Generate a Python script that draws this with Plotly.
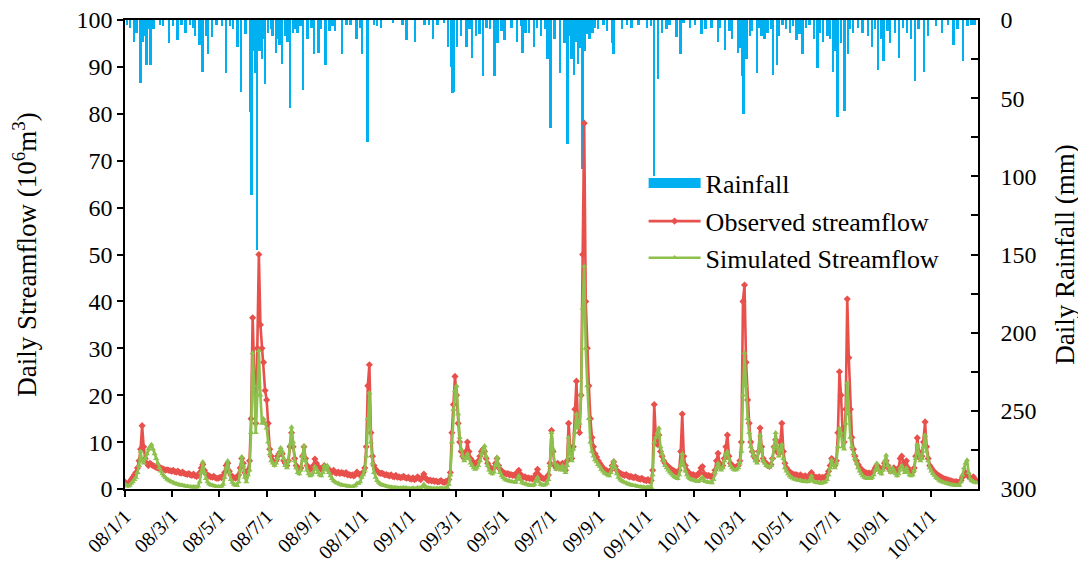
import pandas as pd
import plotly.graph_objects as go

# ---------------- data ----------------
start_date = "2008-01-01"

# streamflow (10^6 m3), sampled every 2 days from 2008-01-01
observed = [
    1.5, 1.2, 1.0, 1.5, 2.0, 2.5, 3.0, 3.5, 4.5, 6.0,
    8.5, 13.5, 9.0, 6.5, 5.5, 5.0, 5.5, 5.2, 5.0, 4.8,
    4.6, 4.5, 4.4, 4.5, 4.3, 4.2, 4.0, 4.1, 4.0, 3.9,
    3.8, 4.0, 3.7, 3.6, 3.8, 3.5, 3.4, 3.6, 3.3, 3.2,
    3.1, 3.3, 3.0, 2.9, 3.2, 2.8, 2.7, 2.9, 3.5, 4.5,
    5.2, 4.0, 3.2, 3.0, 2.8, 2.6, 2.5, 2.7, 2.4, 2.3,
    2.3, 2.5, 2.4, 2.8, 3.5, 5.0, 5.5, 3.8, 3.0, 2.6,
    2.4, 2.3, 2.5, 3.0, 4.5, 6.5, 5.5, 3.5, 3.0, 4.0,
    6.0, 15.0, 36.5, 24.0, 14.0, 30.0, 50.0, 35.0, 30.0, 27.0,
    21.0, 19.0, 14.0, 8.5, 7.0, 6.0, 5.5, 6.0, 7.0, 7.5,
    8.0, 7.5, 6.0, 5.5, 5.0, 6.0, 9.0, 12.0, 9.0, 6.5,
    5.0, 4.5, 4.2, 4.5, 7.0, 9.0, 6.5, 5.0, 4.5, 4.2,
    4.5, 5.0, 6.4, 5.5, 4.8, 4.5, 4.2, 4.5, 5.0, 4.6,
    4.5, 4.0, 3.8, 3.6, 4.0, 3.5, 3.4, 3.6, 3.3, 3.5,
    3.4, 3.2, 3.5, 3.0, 3.1, 2.9, 3.0, 2.8, 3.0, 3.6,
    3.2, 3.0, 3.3, 3.5, 4.5, 9.0, 22.0, 26.5, 12.0, 7.0,
    5.0, 4.2, 3.8, 3.5, 3.3, 3.4, 3.2, 3.0, 3.1, 2.9,
    2.8, 3.0, 2.7, 2.6, 2.9, 2.5, 2.6, 2.4, 2.5, 2.7,
    2.4, 2.3, 2.5, 2.2, 2.1, 2.4, 2.0, 2.2, 2.6, 2.2,
    2.0, 2.5, 3.2, 2.4, 2.0, 1.8, 1.9, 1.7, 1.8, 1.6,
    1.7, 1.5, 1.6, 1.8, 1.5, 1.4, 1.6, 1.5, 2.0, 3.5,
    12.0, 18.0, 24.0, 20.0, 14.0, 10.0, 8.0, 7.0, 6.5, 8.0,
    10.0, 8.0, 6.5, 6.0, 5.5, 5.0, 5.5, 6.0, 7.0, 8.0,
    8.5, 8.0, 6.5, 5.5, 4.8, 4.5, 4.2, 4.5, 5.5, 6.5,
    5.0, 4.2, 3.8, 3.5, 3.4, 3.2, 3.3, 3.0, 3.1, 2.9,
    3.0, 2.8, 3.5, 4.0, 3.2, 2.7, 2.5, 2.6, 2.3, 2.4,
    2.2, 2.3, 2.1, 2.5, 3.2, 4.2, 3.0, 2.5, 2.3, 2.2,
    2.2, 2.5, 3.0, 5.5, 12.5, 8.0, 5.0, 4.5, 5.5, 4.8,
    4.5, 5.5, 4.5, 4.0, 6.0, 14.0, 9.0, 6.5, 9.0, 17.0,
    23.0, 14.0, 12.0, 20.0, 50.0, 78.0, 40.0, 30.0, 22.0, 15.0,
    11.0, 9.0, 7.5, 6.8, 6.0, 5.5, 5.0, 4.5, 4.2, 4.0,
    3.8, 3.6, 4.0, 5.0, 5.8, 4.8, 4.0, 3.5, 3.4, 3.2,
    3.0, 2.9, 3.1, 2.8, 2.6, 2.7, 2.5, 2.4, 2.6, 2.3,
    2.2, 2.1, 2.3, 2.0, 1.9, 1.8, 2.0, 1.7, 1.8, 4.0,
    18.0, 11.5, 9.5, 11.5, 8.0, 7.0, 6.0, 5.5, 5.0, 4.8,
    4.5, 4.2, 4.0, 3.8, 3.6, 3.5, 4.0, 8.0, 16.0, 7.0,
    5.0, 4.0, 3.5, 3.2, 3.0, 3.1, 2.9, 2.8, 3.0, 3.5,
    4.5, 4.8, 3.2, 3.0, 2.8, 2.9, 2.7, 2.6, 3.0, 4.0,
    6.0, 7.6, 5.5, 4.5, 5.0, 6.5, 9.0, 11.5, 7.0, 5.5,
    5.0, 4.8, 4.5, 4.8, 5.0, 6.0, 10.0, 40.0, 43.5, 27.0,
    19.0, 14.0, 10.0, 8.0, 7.0, 6.5, 6.0, 8.0, 13.0, 9.0,
    6.5, 5.8, 5.5, 5.0, 4.8, 5.2, 6.5, 9.0, 10.5, 8.0,
    7.5, 10.0, 14.0, 8.0, 5.5, 4.5, 4.0, 3.6, 3.4, 3.2,
    3.0, 3.1, 2.9, 2.8, 3.0, 2.7, 2.6, 2.8, 2.5, 2.7,
    3.0, 3.5, 2.8, 2.6, 2.5, 2.4, 2.6, 2.3, 2.5, 2.4,
    2.5, 3.0, 3.8, 5.0, 6.5, 5.5, 5.0, 6.0, 12.0, 25.0,
    20.0, 12.0, 10.0, 17.0, 40.5, 28.0, 17.0, 11.0, 8.5, 7.0,
    6.0, 5.2, 4.6, 4.2, 3.9, 3.6, 3.5, 3.3, 3.4, 3.2,
    3.5, 3.8, 4.5, 5.0, 4.8, 4.2, 4.0, 4.5, 5.5, 6.0,
    5.0, 4.2, 3.8, 4.0, 4.5, 4.0, 3.6, 4.5, 6.5, 7.0,
    5.5, 4.5, 6.0, 4.5, 3.8, 3.5, 3.6, 4.5, 7.0, 10.9,
    8.0, 6.5, 7.0, 10.0, 14.3, 9.0, 6.5, 5.0, 4.5, 4.0,
    3.6, 3.3, 3.0, 2.8, 2.6, 2.4, 2.2, 2.1, 2.0, 1.9,
    1.8, 1.7, 1.6, 1.5, 1.6, 1.4, 1.5, 1.8, 2.5, 3.0,
    3.5, 3.2, 2.6, 2.4, 2.2, 2.6, 2.0, 1.8,
]

simulated = [
    1.0, 0.8, 0.6, 0.8, 1.2, 1.5, 2.0, 2.5, 3.5, 5.0,
    8.0, 6.0, 5.5, 6.5, 7.5, 8.5, 9.0, 9.5, 8.5, 7.5,
    6.5, 5.5, 4.5, 3.8, 3.2, 2.8, 2.4, 2.1, 1.9, 1.7,
    1.5, 1.4, 1.2, 1.1, 1.0, 0.9, 0.8, 0.8, 0.7, 0.6,
    0.6, 0.5, 0.5, 0.4, 0.5, 0.4, 0.4, 0.6, 1.5, 3.5,
    5.8, 3.5, 2.2, 1.5, 1.1, 0.9, 0.8, 0.7, 0.6, 0.5,
    0.5, 0.5, 0.6, 1.0, 2.5, 4.5, 6.0, 3.5, 2.0, 1.4,
    1.0, 0.8, 0.8, 1.5, 4.0, 6.9, 5.0, 2.5, 1.5, 3.0,
    4.0, 12.0, 29.0, 22.0, 12.0, 20.0, 29.5, 20.0, 14.0, 15.0,
    14.0, 13.0, 10.0, 7.5, 6.0, 5.5, 5.0, 5.5, 6.5, 7.5,
    8.8, 8.0, 6.5, 5.0, 4.5, 6.0, 9.5, 13.2, 10.0, 6.0,
    4.5, 3.5, 3.2, 4.0, 7.0, 9.2, 6.0, 4.0, 3.2, 2.8,
    3.0, 3.5, 4.8, 4.2, 3.5, 3.0, 2.8, 3.5, 5.0, 4.0,
    5.0, 3.5, 2.8, 2.2, 1.8, 1.5, 1.3, 1.2, 1.0, 0.9,
    0.8, 0.7, 0.7, 0.6, 0.6, 0.5, 0.5, 0.6, 0.8, 1.2,
    1.2, 1.5, 2.5, 3.0, 4.0, 7.0, 15.0, 20.5, 10.0, 5.5,
    3.5, 2.5, 1.8, 1.4, 1.1, 0.9, 0.8, 0.7, 0.6, 0.5,
    0.4, 0.4, 0.3, 0.3, 0.3, 0.2, 0.2, 0.2, 0.2, 0.3,
    0.2, 0.2, 0.1, 0.1, 0.1, 0.2, 0.1, 0.1, 0.3, 0.2,
    0.2, 0.5, 1.0, 0.5, 0.3, 0.2, 0.2, 0.1, 0.1, 0.1,
    0.1, 0.1, 0.1, 0.2, 0.1, 0.1, 0.2, 0.3, 1.0, 3.0,
    10.0, 17.0, 21.0, 22.0, 16.0, 11.0, 8.5, 7.0, 6.0, 6.5,
    7.5, 6.5, 5.5, 5.0, 4.5, 4.2, 4.5, 5.0, 6.0, 7.5,
    8.5, 9.2, 7.0, 5.0, 4.0, 3.5, 3.2, 3.6, 5.0, 6.8,
    5.0, 3.5, 2.8, 2.4, 2.1, 1.9, 1.8, 1.7, 1.6, 1.5,
    1.5, 1.4, 2.0, 2.8, 2.0, 1.4, 1.2, 1.1, 1.0, 0.9,
    0.8, 0.8, 0.7, 1.0, 1.8, 2.5, 1.5, 1.0, 0.9, 0.8,
    1.0, 1.2, 2.0, 5.0, 12.0, 8.5, 5.5, 4.2, 5.0, 4.5,
    4.0, 5.0, 4.0, 3.5, 5.0, 11.0, 7.5, 6.0, 8.5, 12.0,
    16.0, 13.0, 14.0, 20.0, 38.5, 47.5, 30.0, 22.0, 15.0, 10.0,
    8.0, 7.0, 6.2, 5.8, 5.2, 4.8, 4.2, 3.8, 3.4, 3.2,
    3.0, 2.8, 3.5, 5.0, 6.0, 4.5, 3.2, 2.5, 2.1, 1.8,
    1.6, 1.4, 1.3, 1.1, 1.0, 0.9, 0.8, 0.7, 0.7, 0.6,
    0.5, 0.5, 0.4, 0.4, 0.3, 0.3, 0.4, 0.3, 0.3, 3.0,
    10.0, 11.0, 12.0, 13.0, 9.0, 7.5, 6.0, 5.0, 4.5, 4.0,
    3.6, 3.2, 2.9, 2.6, 2.4, 2.2, 3.0, 5.0, 7.5, 5.0,
    3.8, 3.0, 2.5, 2.2, 2.0, 1.9, 1.8, 1.7, 1.6, 1.8,
    2.2, 2.5, 1.8, 1.6, 1.5, 1.4, 1.4, 1.3, 2.0, 3.5,
    4.5, 5.5, 4.5, 4.0, 4.5, 6.0, 7.5, 8.0, 6.5, 5.0,
    4.5, 4.2, 4.0, 4.2, 4.5, 5.5, 8.0, 20.0, 29.0, 22.0,
    15.0, 12.0, 9.0, 8.0, 7.0, 6.0, 5.5, 8.0, 11.5, 8.5,
    6.0, 5.5, 5.0, 4.8, 4.6, 5.0, 6.5, 9.0, 12.0, 9.0,
    7.0, 8.5, 9.5, 6.5, 4.5, 3.8, 3.2, 2.8, 2.5, 2.3,
    2.1, 2.0, 1.9, 1.8, 1.8, 1.7, 1.6, 1.7, 1.5, 1.6,
    2.0, 2.8, 1.8, 1.5, 1.4, 1.3, 1.4, 1.2, 1.3, 1.4,
    1.5, 2.0, 3.0, 4.5, 6.2, 5.0, 4.5, 5.5, 9.0, 13.0,
    12.0, 9.0, 8.5, 14.0, 22.6, 16.0, 11.0, 9.0, 7.5, 6.5,
    5.5, 4.5, 3.8, 3.2, 2.8, 2.5, 2.3, 2.2, 2.3, 2.2,
    2.5, 3.0, 4.0, 5.5, 4.2, 3.5, 3.2, 4.0, 6.0, 7.2,
    5.0, 4.0, 3.5, 4.5, 4.0, 3.2, 2.8, 3.2, 4.5, 5.0,
    4.0, 3.5, 4.5, 3.5, 3.0, 2.8, 3.0, 4.0, 6.5, 9.5,
    7.5, 6.0, 6.5, 9.0, 11.5, 8.0, 6.0, 4.5, 3.8, 3.3,
    2.9, 2.5, 2.2, 1.9, 1.7, 1.5, 1.4, 1.3, 1.2, 1.1,
    1.0, 0.9, 0.9, 0.8, 0.8, 0.7, 0.8, 1.5, 3.0, 4.5,
    5.5, 6.2, 3.5, 2.2, 1.8, 1.6, 1.4, 1.3,
]

# rainfall (mm): day offset from 2008-01-01 and amount
rain_day_major = [
    12, 20, 23, 28, 33, 37, 49, 57, 68, 73,
    78, 84, 90, 96, 100, 104, 107, 112, 125, 130,
    139, 145, 149, 161, 163, 167, 170, 173, 176, 180,
    184, 194, 199, 202, 206, 212, 216, 222, 229, 235,
    243, 249, 258, 263, 270, 279, 285, 298, 305, 312,
    324, 329, 357, 362, 373, 385, 396, 415, 420, 421,
    423, 427, 439, 446, 451, 460, 469, 475, 479, 488,
    504, 511, 519, 526, 535, 543, 547, 559, 569, 574,
    577, 582, 588, 591, 597, 601, 608, 626, 628, 639,
    651, 671, 680, 685, 696, 709, 714, 726, 741, 754,
    762, 771, 777, 788, 793, 795, 799, 806, 812, 818,
    826, 833, 838, 845, 855, 863, 871, 880, 890, 897,
    903, 910, 916, 925, 929, 936, 948, 960, 968, 975,
    983, 995, 1005, 1015, 1027, 1050, 1065, 1077, 1088,
]
rain_mm_major = [
    14, 40, 14, 29, 29, 6, 4, 15, 13, 3,
    8, 3, 10, 16, 33, 10, 22, 11, 4, 34,
    6, 17, 46, 59, 112, 34, 147, 20, 25, 41,
    8, 21, 16, 28, 10, 56, 8, 8, 45, 12,
    22, 21, 29, 7, 7, 22, 3, 12, 22, 78,
    4, 5, 3, 13, 14, 3, 12, 17, 30, 47,
    46, 17, 17, 24, 10, 36, 6, 36, 15, 13,
    14, 21, 8, 17, 10, 25, 69, 34, 79, 25,
    35, 28, 95, 20, 12, 8, 6, 15, 22, 6,
    5, 5, 100, 38, 6, 11, 22, 5, 9, 5,
    14, 19, 7, 21, 36, 60, 25, 7, 34, 10,
    8, 35, 29, 3, 8, 13, 22, 3, 31, 14,
    10, 33, 62, 58, 22, 8, 8, 17, 32, 26,
    15, 24, 8, 39, 33, 8, 16, 26, 3,
]
rain_day_minor = [
    3, 7, 15, 25, 30, 45, 62, 88, 118, 135,
    155, 165, 168, 178, 188, 190, 197, 209, 219, 226,
    240, 252, 267, 290, 302, 320, 345, 391, 402, 410,
    432, 443, 456, 465, 484, 497, 509, 515, 530, 540,
    552, 565, 571, 579, 585, 594, 604, 615, 620, 645,
    660, 676, 690, 700, 718, 733, 746, 765, 780, 791,
    803, 815, 822, 830, 840, 850, 859, 867, 875, 886,
    893, 906, 913, 920, 932, 942, 955, 964, 972, 980,
    990, 1000, 1010, 1020, 1032, 1042, 1058, 1070, 1083, 1092,
]
rain_mm_minor = [
    3, 5, 8, 10, 6, 3, 4, 5, 3, 4,
    9, 20, 15, 12, 6, 10, 12, 14, 6, 4,
    5, 6, 4, 3, 5, 3, 2, 3, 3, 2,
    10, 6, 9, 5, 7, 5, 4, 8, 5, 6,
    12, 15, 10, 14, 18, 9, 5, 3, 7, 3,
    3, 4, 8, 3, 2, 3, 6, 5, 12, 18,
    10, 5, 12, 6, 10, 6, 4, 9, 5, 12,
    8, 12, 20, 15, 6, 5, 10, 6, 12, 7,
    8, 5, 12, 6, 10, 4, 3, 6, 4, 3,
]

tick_dates = [
    "2008-01-01", "2008-03-01", "2008-05-01", "2008-07-01", "2008-09-01", "2008-11-01",
    "2009-01-01", "2009-03-01", "2009-05-01", "2009-07-01", "2009-09-01", "2009-11-01",
    "2010-01-01", "2010-03-01", "2010-05-01", "2010-07-01", "2010-09-01", "2010-11-01",
]
tick_labels = [
    "08/1/1", "08/3/1", "08/5/1", "08/7/1", "08/9/1", "08/11/1",
    "09/1/1", "09/3/1", "09/5/1", "09/7/1", "09/9/1", "09/11/1",
    "10/1/1", "10/3/1", "10/5/1", "10/7/1", "10/9/1", "10/11/1",
]

# ---------------- build ----------------
n = min(len(observed), len(simulated))
flow_dates = pd.date_range(start_date, periods=n, freq="2D")
t0 = pd.Timestamp(start_date)
rain_days = rain_day_major + rain_day_minor
rain_vals = rain_mm_major + rain_mm_minor
rain_dates = [t0 + pd.Timedelta(days=d) for d in rain_days]

FONT = "Liberation Serif, Times New Roman, serif"
RED = "#E8504C"
GREEN = "#8DC04C"
BLUE = "#00B0F0"

fig = go.Figure()
fig.add_trace(go.Bar(
    x=rain_dates, y=rain_vals, name="Rainfall", showlegend=False,
    marker=dict(color=BLUE, line=dict(width=0)),
    width=2.4 * 86400000, yaxis="y", xaxis="x",
))
# legend-only entry giving the rainfall key its wide block symbol
fig.add_trace(go.Scatter(
    x=[None], y=[None], name="Rainfall", mode="lines",
    line=dict(color=BLUE, width=15), yaxis="y", xaxis="x",
    legend="legend", hoverinfo="skip",
))
fig.add_trace(go.Scatter(
    x=flow_dates, y=observed[:n], name="Observed streamflow",
    mode="lines+markers", line=dict(color=RED, width=2.6),
    marker=dict(symbol="diamond", size=5.5, color=RED),
    yaxis="y2", xaxis="x", legend="legend2",
))
fig.add_trace(go.Scatter(
    x=flow_dates, y=simulated[:n], name="Simulated Streamflow",
    mode="lines+markers", line=dict(color=GREEN, width=2.6),
    marker=dict(symbol="triangle-up", size=5.5, color=GREEN),
    yaxis="y2", xaxis="x", legend="legend3",
))

leg_common = dict(
    xanchor="left", yanchor="middle", bgcolor="rgba(0,0,0,0)",
    font=dict(family=FONT, size=26, color="black"), itemwidth=52,
)

fig.update_layout(
    width=1086, height=569,
    margin=dict(l=117, r=116, t=12, b=88, autoexpand=False),
    paper_bgcolor="white", plot_bgcolor="white",
    font=dict(family=FONT, size=24, color="black"),
    barmode="overlay", bargap=0,
    showlegend=True,
    legend=dict(x=0.608, y=0.652, **leg_common),
    legend2=dict(x=0.608, y=0.571, **leg_common),
    legend3=dict(x=0.608, y=0.493, **leg_common),
    xaxis=dict(
        type="date", range=["2008-01-01", "2011-01-01"],
        tickmode="array", tickvals=tick_dates, ticktext=tick_labels,
        tickangle=-45, ticks="outside", ticklen=6, tickwidth=1.5, tickcolor="black",
        showline=True, linecolor="black", linewidth=1.5, mirror=True,
        showgrid=False, zeroline=False, automargin=False,
        ticklabeloverflow="allow",
        tickfont=dict(family=FONT, size=20),
    ),
    yaxis=dict(
        side="right", range=[300, 0], tick0=0, dtick=50,
        ticks="inside", ticklen=7, tickwidth=1.5, tickcolor="black",
        minor=dict(dtick=25, ticks="inside", ticklen=7, tickwidth=1.5, tickcolor="black", showgrid=False),
        showline=True, linecolor="black", linewidth=1.5,
        showgrid=False, zeroline=False, automargin=False,
        ticklabelstandoff=16, ticklabeloverflow="allow",
        title=dict(text="Daily Rainfall (mm)", font=dict(family=FONT, size=27), standoff=20),
        tickfont=dict(family=FONT, size=24),
    ),
    yaxis2=dict(
        overlaying="y", side="left", range=[0, 100], tick0=0, dtick=10,
        ticks="outside", ticklen=6, tickwidth=1.5, tickcolor="black",
        showline=True, linecolor="black", linewidth=1.5,
        showgrid=False, zeroline=False, automargin=False,
        ticklabeloverflow="allow",
        title=dict(text="Daily Streamflow (10<sup>6</sup>m<sup>3</sup>)", font=dict(family=FONT, size=27), standoff=44),
        tickfont=dict(family=FONT, size=24),
    ),
)

fig.write_html("out.html")
